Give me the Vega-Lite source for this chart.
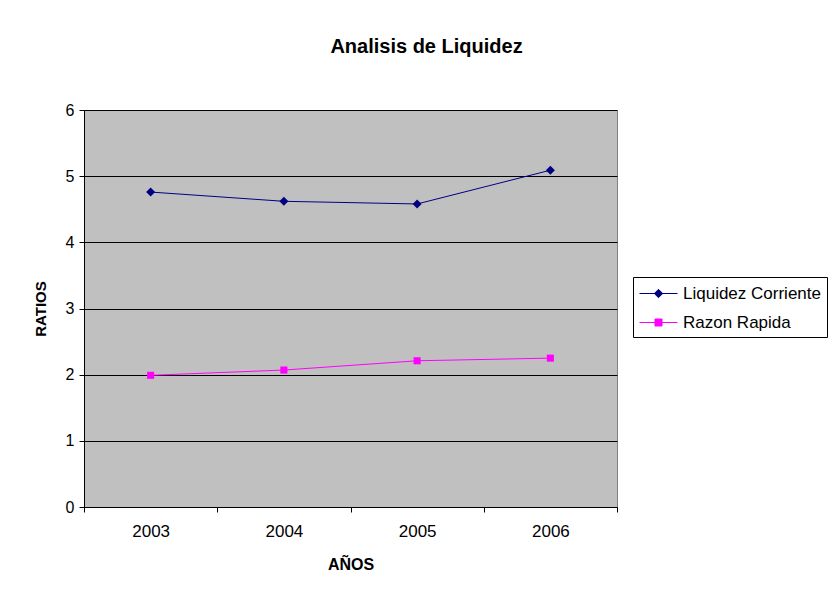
{
  "$schema": "https://vega.github.io/schema/vega-lite/v6.json",
  "width": 533,
  "height": 397,
  "autosize": "none",
  "padding": {"left": 84, "top": 110, "right": 211, "bottom": 83},
  "background": "white",
  "title": {
    "text": "Analisis de Liquidez",
    "font": "Liberation Sans",
    "fontSize": 20,
    "fontWeight": "bold",
    "color": "black",
    "anchor": "middle",
    "dx": 76,
    "baseline": "alphabetic",
    "offset": 29
  },
  "data": {
    "values": [
      {"year": "2003", "series": "Liquidez Corriente", "value": 4.76},
      {"year": "2004", "series": "Liquidez Corriente", "value": 4.62},
      {"year": "2005", "series": "Liquidez Corriente", "value": 4.58},
      {"year": "2006", "series": "Liquidez Corriente", "value": 5.09},
      {"year": "2003", "series": "Razon Rapida", "value": 1.99},
      {"year": "2004", "series": "Razon Rapida", "value": 2.07},
      {"year": "2005", "series": "Razon Rapida", "value": 2.21},
      {"year": "2006", "series": "Razon Rapida", "value": 2.25}
    ]
  },
  "encoding": {
    "x": {
      "field": "year",
      "type": "ordinal",
      "scale": {"type": "band", "paddingInner": 0, "paddingOuter": 0},
      "axis": {
        "title": "AÑOS",
        "titleFont": "Liberation Sans",
        "titleFontSize": 16,
        "titleFontWeight": "bold",
        "titleColor": "black",
        "titlePadding": 17,
        "labelFont": "Liberation Sans",
        "labelFontSize": 17,
        "labelColor": "black",
        "labelAngle": 0,
        "labelPadding": 11,
        "tickBand": "extent",
        "tickColor": "black",
        "tickSize": 5,
        "domainColor": "black",
        "grid": false
      }
    },
    "y": {
      "field": "value",
      "type": "quantitative",
      "scale": {"domain": [0, 6], "nice": false},
      "axis": {
        "title": "RATIOS",
        "titleFont": "Liberation Sans",
        "titleFontSize": 15,
        "titleFontWeight": "bold",
        "titleColor": "black",
        "titlePadding": 17,
        "values": [0, 1, 2, 3, 4, 5, 6],
        "labelFont": "Liberation Sans",
        "labelFontSize": 16,
        "labelColor": "black",
        "labelPadding": 5,
        "tickColor": "black",
        "tickSize": 5,
        "domainColor": "black",
        "grid": true,
        "gridColor": "black",
        "gridOpacity": 1,
        "gridWidth": 1
      }
    },
    "color": {
      "field": "series",
      "type": "nominal",
      "scale": {"domain": ["Liquidez Corriente", "Razon Rapida"], "range": ["#000080", "#FF00FF"]},
      "legend": {
        "title": null,
        "orient": "none",
        "legendX": 549,
        "legendY": 167,
        "padding": 6,
        "strokeColor": "black",
        "fillColor": "white",
        "labelFont": "Liberation Sans",
        "labelFontSize": 17,
        "labelColor": "black",
        "labelOffset": 23,
        "rowPadding": 10,
        "symbolSize": 400,
        "symbolStrokeWidth": 1,
        "symbolOpacity": 1,
        "encode": {
          "symbols": {
            "update": {
              "shape": {"signal": "datum.value == 'Liquidez Corriente' ? 'M-1,0H2.8M0.9,-0.42L1.32,0L0.9,0.42L0.48,0Z' : 'M-1,0H2.8M0.55,-0.35H1.25V0.35H0.55Z'"},
              "fill": {"signal": "datum.value == 'Liquidez Corriente' ? '#000080' : '#FF00FF'"},
              "stroke": {"signal": "datum.value == 'Liquidez Corriente' ? '#000080' : '#FF00FF'"},
              "strokeWidth": {"value": 1}
            }
          }
        }
      }
    }
  },
  "layer": [
    {"mark": {"type": "line", "strokeWidth": 1}},
    {
      "transform": [{"filter": "datum.series == 'Liquidez Corriente'"}],
      "mark": {"type": "point", "shape": "diamond", "filled": true, "size": 80, "opacity": 1}
    },
    {
      "transform": [{"filter": "datum.series == 'Razon Rapida'"}],
      "mark": {"type": "point", "shape": "square", "filled": true, "size": 50, "opacity": 1}
    }
  ],
  "config": {
    "view": {"fill": "#C0C0C0", "stroke": "#808080", "strokeWidth": 1},
    "legend": {"cornerRadius": 0}
  }
}
